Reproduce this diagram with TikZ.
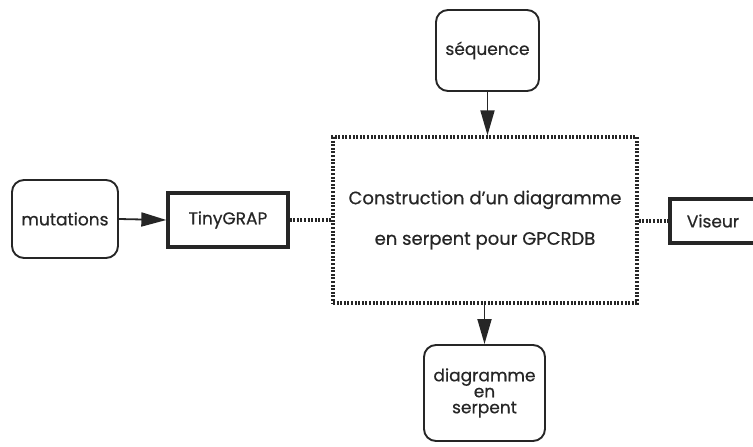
\documentclass[tikz,border=0pt]{standalone}
\usepackage{fontspec}
\setmainfont{Poppins}[FakeBold=0.6]
\usetikzlibrary{arrows.meta}
\begin{document}
\begin{tikzpicture}[x=1pt,y=-1pt,
  txt/.style={font=\fontsize{17}{16}\selectfont, text=black!85},
  roundbox/.style={draw=black!85, line width=1.9pt, rounded corners=12pt, txt, inner sep=0pt, align=center},
  thickbox/.style={draw=black!85, line width=3.3pt, txt, inner sep=0pt},
  dotbox/.style={draw=black!85, line width=3.3pt, dash pattern=on 2pt off 1.6pt, inner sep=0pt, align=center, font=\fontsize{18}{16}\selectfont, text=black!85},
  dotline/.style={draw=black!85, line width=3.1pt, dash pattern=on 2pt off 1.6pt},
  arr/.style={draw=black!85, line width=1.8pt, -{Triangle[length=25pt,width=14pt]}}]
\useasboundingbox (0,0) rectangle (753,447);
\clip (0,0) rectangle (753,447);
\node[roundbox, minimum width=106pt, minimum height=78pt] (mut) at (65,219) {mutations};
\node[thickbox, minimum width=120pt, minimum height=54pt] (tiny) at (228,220) {TinyGRAP};
\node[dotbox, minimum width=304pt, minimum height=166pt] (main) at (485,220) {Construction d'un diagramme\\[22pt]en serpent pour GPCRDB};
\node[roundbox, minimum width=103pt, minimum height=81pt] (seq) at (487.5,50.5) {séquence};
\node[roundbox, minimum width=121pt, minimum height=96pt] (diag) at (484.5,393) {diagramme\\en\\serpent};
\node[thickbox, minimum width=86pt, minimum height=44pt] (vis) at (713,221) {Viseur};
\draw[arr] (mut.east) -- (tiny.west);
\draw[dotline] (tiny.east) -- (main.west |- tiny.east);
\draw[dotline] (main.east |- vis.west) -- (vis.west);
\draw[arr] (seq.south) -- (main.north -| seq.south);
\draw[arr] (main.south -| diag.north) -- (diag.north);
\end{tikzpicture}
\end{document}
